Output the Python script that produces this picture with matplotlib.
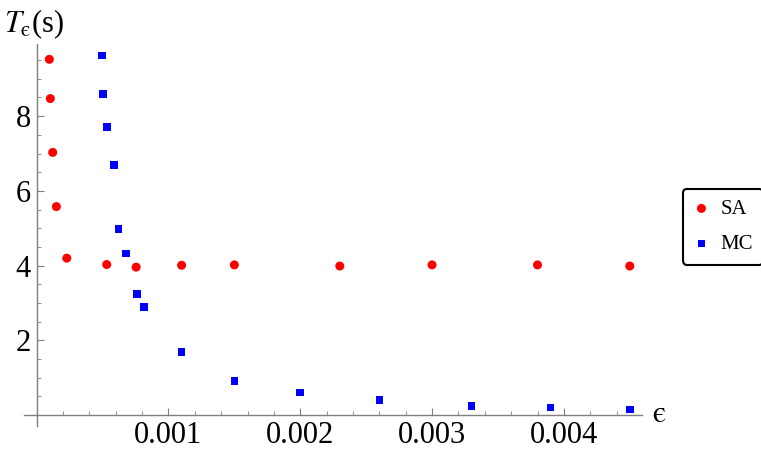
import matplotlib as mpl
import matplotlib.pyplot as plt
import numpy as np

plt.rcParams["font.family"] = "Liberation Serif"
plt.rcParams["mathtext.fontset"] = "stix"

# SA results (red circles)
sa_eps = [0.0000964, 0.000104, 0.000122, 0.00015, 0.000229, 0.000532, 0.000755,
          0.0011, 0.0015, 0.0023, 0.0030, 0.0038, 0.0045]
sa_T = [9.52, 8.47, 7.03, 5.58, 4.20, 4.03, 3.96, 4.01, 4.02, 3.99, 4.02, 4.02, 3.99]

# MC results (blue squares)
mc_eps = [0.000497, 0.000504, 0.000532, 0.000585, 0.00062, 0.000677, 0.00076,
          0.000815, 0.0011, 0.0015, 0.0020, 0.0026, 0.0033, 0.0039, 0.0045]
mc_T = [9.62, 8.60, 7.71, 6.69, 4.98, 4.32, 3.24, 2.90, 1.69, 0.91, 0.61, 0.40,
        0.24, 0.21, 0.15]

xticks = [0.001, 0.002, 0.003, 0.004]
xlabels = ["0.001", "0.002", "0.003", "0.004"]
yticks = [2, 4, 6, 8]

W, H = 761, 455
fig = plt.figure(figsize=(7.61, 4.55), dpi=100)
ax = fig.add_axes([24 / W, (H - 426) / H, (642.3 - 24) / W, (426 - 44) / H])

ax.scatter(sa_eps, sa_T, s=42, marker="o", color="#ff0000", edgecolors="none", label="SA", zorder=3)
ax.scatter(mc_eps, mc_T, s=30, marker="s", color="#0000ff", edgecolors="none", label="MC", zorder=3)

ax.set_xlim(-0.0000957, 0.004595)
ax.set_ylim(-0.29, 9.93)

for s in ["top", "right"]:
    ax.spines[s].set_visible(False)
ax.spines["left"].set_position(("data", 0))
ax.spines["bottom"].set_position(("data", 0))
for s in ["left", "bottom"]:
    ax.spines[s].set_color("#7f7f7f")
    ax.spines[s].set_linewidth(1.0)

ax.set_xticks(xticks)
ax.set_xticklabels(xlabels)
ax.set_yticks(yticks)
ax.set_xticks(np.arange(0.0002, 0.0046, 0.0002), minor=True)
ax.set_yticks(np.arange(0.5, 9.9, 0.5), minor=True)
ax.tick_params(which="major", direction="in", length=5, width=0.8, color="#7f7f7f",
               labelsize=22, pad=4)
ax.tick_params(which="minor", direction="in", length=3, width=0.6, color="#7f7f7f")

fig.text(4 / W, 1 - 32 / H, "$T_{\\mathrm{\u03f5}}$(s)", fontsize=22, ha="left", va="baseline")
fig.text(652 / W, 1 - 422 / H, "$\\mathrm{\u03f5}$", fontsize=22, ha="left", va="baseline")

leg = ax.legend(loc="center left", bbox_to_anchor=(682.7 / W, 1 - 226.7 / H),
                bbox_transform=fig.transFigure, fontsize=15, frameon=True,
                fancybox=True, edgecolor="black", framealpha=1, handletextpad=0.5,
                borderpad=0.5, labelspacing=0.75, handlelength=0.8, borderaxespad=0)
leg.get_frame().set_linewidth(1.5)

plt.savefig("out.png", dpi=100)
